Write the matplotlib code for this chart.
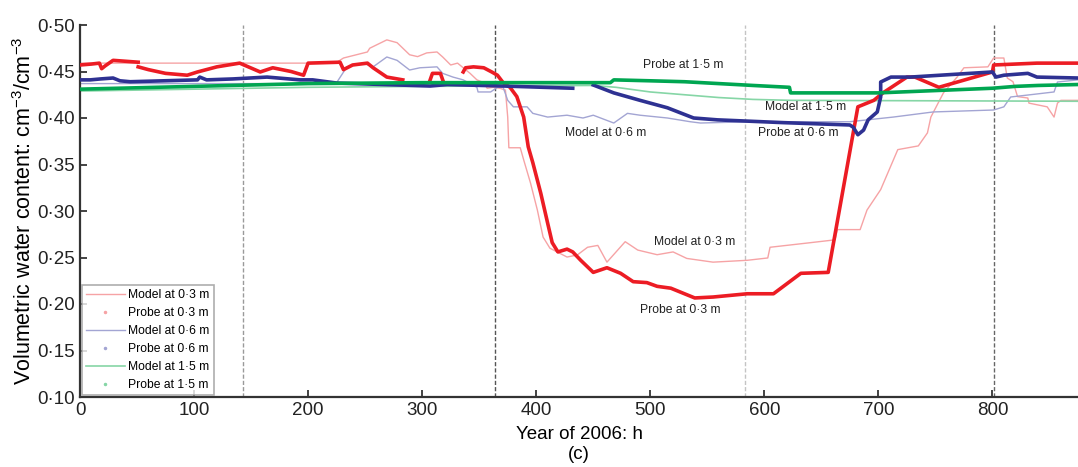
import numpy as np
import matplotlib.pyplot as plt
from matplotlib import font_manager as fm

nan = np.nan

# hours and volumetric water content
probe_03_h = [0, 10, 17, 19, 22, 29, 40, 51, nan, 51, 60, 75, 94, 103, 120, 140, 158, 169, 185, 196,
              200, 228, 231, 239, 252, 257, 269, 283, nan, 307, 309, 316, 318, nan,
              336, 338, 345, 354, 361, 366, 371, 377, 383, 389, 393, 397, 404, 410, 414, 419,
              427, 432, 439, 450, 462, 474, 485, 497, 506, 518, 539, 555, 585, 608, 632, 656,
              682, 696, 704, 725, 732, 753, 800, 801, 839, 875]
probe_03_v = [0.457, 0.458, 0.459, 0.453, 0.456, 0.462, 0.461, 0.460, nan, 0.455, 0.452, 0.448, 0.446, 0.4495,
              0.455, 0.459, 0.4495, 0.454, 0.450, 0.446,
              0.459, 0.460, 0.452, 0.457, 0.459, 0.454, 0.444, 0.441, nan, 0.441, 0.448, 0.448, 0.441, nan,
              0.4495, 0.454, 0.455, 0.454, 0.4495, 0.446, 0.438, 0.433, 0.423, 0.401, 0.369, 0.352,
              0.319, 0.287, 0.266, 0.256,
              0.259, 0.256, 0.247, 0.234, 0.239, 0.233, 0.224, 0.223, 0.219, 0.217, 0.2065, 0.2075,
              0.211, 0.211, 0.233, 0.234,
              0.412, 0.419, 0.427, 0.444, 0.444, 0.433, 0.4495, 0.457, 0.459, 0.459]

model_03_h = [0, 224, 231, 252, 254, 269, 278, 289, 296, 304, 313, 318, 325, 331, 336, 342, 348, 354,
              357, 362, 368, 373, 375, 376, 386, 389, 395, 401, 406, 412, 427, 436, 445, 454, 462,
              478, 489, 506, 520, 532, 555, 585, 603, 605, 638, 662, 664, 684, 690, 702, 717, 735,
              743, 746, 757, 769, 775, 796, 801, 810, 813, 818, 822, 831, 832, 848, 854, 857, 860, 875]
model_03_v = [0.459, 0.459, 0.4645, 0.471, 0.475, 0.484, 0.481, 0.468, 0.466, 0.470, 0.471, 0.4656,
              0.457, 0.459, 0.454, 0.448, 0.441, 0.438,
              0.432, 0.433, 0.432, 0.430, 0.401, 0.368, 0.368, 0.355, 0.330, 0.301, 0.272, 0.260,
              0.2505, 0.2527, 0.261, 0.263, 0.245,
              0.267, 0.258, 0.253, 0.256, 0.249, 0.245, 0.247, 0.2495, 0.261, 0.2656, 0.269, 0.280,
              0.280, 0.301, 0.323, 0.366, 0.370,
              0.384, 0.401, 0.427, 0.444, 0.454, 0.455, 0.4645, 0.4645, 0.443, 0.439, 0.423, 0.4215,
              0.416, 0.412, 0.401, 0.416, 0.419, 0.419]

probe_06_h = [0, 9, 18, 29, 35, 44, 103, 105, 111, 134, 164, 193, 204, 225, 307, 322, 371, 432,
              nan, 450, 468, 491, 515, 538, 559, 617, 675, 678, 682, 687, 691, 699, 702, 702, 711,
              728, 800, 803, 810, 831, 839, 875]
probe_06_v = [0.441, 0.441, 0.442, 0.443, 0.440, 0.439, 0.441, 0.444, 0.441, 0.442, 0.444, 0.441, 0.441,
              0.4376, 0.4344, 0.436, 0.4344, 0.432,
              nan, 0.4355, 0.427, 0.419, 0.411, 0.400, 0.398, 0.395, 0.3925, 0.390, 0.382, 0.387,
              0.398, 0.4065, 0.4226, 0.4387, 0.444,
              0.444, 0.4495, 0.444, 0.446, 0.448, 0.444, 0.443]

model_06_h = [0, 100, 200, 225, 234, 248, 257, 269, 278, 289, 298, 313, 318, 327, 336, 348, 349, 360,
              366, 371, 375, 380, 392, 397, 410, 427, 441, 450, 468, 480, 491, 515, 535, 544, 588,
              675, 713, 748, 801, 810, 816, 831, 854, 857, 875]
model_06_v = [0.437, 0.437, 0.437, 0.438, 0.455, 0.459, 0.455, 0.4656, 0.462, 0.4516, 0.454, 0.455,
              0.448, 0.444, 0.441, 0.433, 0.428, 0.428,
              0.433, 0.433, 0.419, 0.412, 0.412, 0.405, 0.401, 0.403, 0.400, 0.403, 0.3946, 0.405,
              0.403, 0.400, 0.396, 0.3946, 0.396,
              0.396, 0.401, 0.4065, 0.4086, 0.412, 0.4226, 0.4247, 0.428, 0.4387, 0.441]

probe_15_h = [0, 100, 200, 300, 450, 465, 468, 500, 530, 560, 590, 622, 623, 700, 760, 800, 820, 840, 875]
probe_15_v = [0.431, 0.434, 0.437, 0.438, 0.438, 0.438, 0.441, 0.440, 0.439, 0.437, 0.435, 0.433,
              0.427, 0.427, 0.430, 0.432, 0.434, 0.435, 0.436]

model_15_h = [0, 100, 200, 300, 450, 470, 500, 530, 560, 590, 623, 875]
model_15_v = [0.429, 0.431, 0.433, 0.434, 0.435, 0.433, 0.428, 0.425, 0.422, 0.420, 0.419, 0.418]

event_h = [143, 364, 583, 801]
event_colors = ['#9a9a9a', '#555555', '#c4c4c4', '#666666']

labels = [("Probe at 1·5 m", 529, 0.457), ("Model at 1·5 m", 636, 0.412),
          ("Model at 0·6 m", 461, 0.384), ("Probe at 0·6 m", 630, 0.384),
          ("Model at 0·3 m", 539, 0.267), ("Probe at 0·3 m", 526, 0.194)]

# keep the regular Liberation Sans, not the Narrow cut
fm.fontManager.ttflist = [f for f in fm.fontManager.ttflist if 'Narrow' not in f.fname]
plt.rcParams['font.family'] = ['Liberation Sans', 'DejaVu Sans']
plt.rcParams['mathtext.fontset'] = 'custom'
plt.rcParams['mathtext.rm'] = 'Liberation Sans'

fig = plt.figure(figsize=(10.78, 4.67), dpi=100)
ax = fig.add_axes([80 / 1078, 70 / 467, 998 / 1078, 372 / 467])

for h, c in zip(event_h, event_colors):
    ax.axvline(h, color=c, lw=1.0, ls=(0, (3, 1.5)), zorder=1)

red, red_l = '#ec1c24', '#f6a3a5'
blue, blue_l = '#2e3192', '#a3a5d3'
green, green_l = '#00a651', '#86d6a6'

ax.plot(model_03_h, model_03_v, color=red_l, lw=1.0, zorder=2)
ax.plot(model_06_h, model_06_v, color=blue_l, lw=1.0, zorder=2)
ax.plot(model_15_h, model_15_v, color=green_l, lw=1.2, zorder=2)
ax.plot(probe_03_h, probe_03_v, color=red, lw=2.6, zorder=3)
ax.plot(probe_06_h, probe_06_v, color=blue, lw=2.6, zorder=3)
ax.plot(probe_15_h, probe_15_v, color=green, lw=2.6, zorder=4)

for txt, x, y in labels:
    ax.text(x, y, txt, fontsize=8.7, ha='center', va='center', color='#222222')

# legend proxies
h1, = ax.plot([], [], color=red_l, lw=1.0, label="Model at 0·3 m")
h2, = ax.plot([], [], ls='none', marker='.', ms=3, color=red_l, label="Probe at 0·3 m")
h3, = ax.plot([], [], color=blue_l, lw=1.0, label="Model at 0·6 m")
h4, = ax.plot([], [], ls='none', marker='.', ms=3, color=blue_l, label="Probe at 0·6 m")
h5, = ax.plot([], [], color=green_l, lw=1.2, label="Model at 1·5 m")
h6, = ax.plot([], [], ls='none', marker='.', ms=3, color=green_l, label="Probe at 1·5 m")
leg = ax.legend(handles=[h1, h2, h3, h4, h5, h6], loc='lower left', fontsize=8.7,
                frameon=True, fancybox=False, borderpad=0.35, labelspacing=0.5,
                handlelength=3.2, handletextpad=0.3, borderaxespad=0.15)
leg.get_frame().set_edgecolor('#999999')
leg.get_frame().set_linewidth(1.2)

ax.set_xlim(0, 875)
ax.set_ylim(0.10, 0.50)
ax.set_xticks(range(0, 801, 100))
yt = np.arange(0.10, 0.501, 0.05)
ax.set_yticks(yt)
ax.set_yticklabels([f"{v:.2f}".replace('.', '·') for v in yt])
ax.tick_params(direction='in', length=5, width=1.2, labelsize=13.5, colors='#222222')
for s in ['top', 'right']:
    ax.spines[s].set_visible(False)
for s in ['left', 'bottom']:
    ax.spines[s].set_linewidth(1.6)
    ax.spines[s].set_color('#333333')

ax.set_ylabel("Volumetric water content: cm$^{-3}$/cm$^{-3}$", fontsize=15.5, labelpad=1)
ax.set_xlabel("Year of 2006: h\n(c)", fontsize=13.5, labelpad=5, linespacing=1.25)

fig.savefig("out.png", dpi=100)
